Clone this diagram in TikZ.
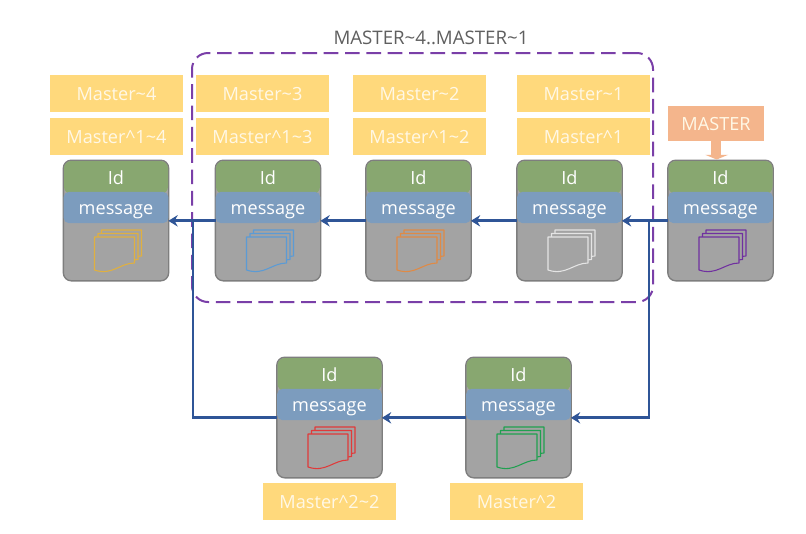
\documentclass[tikz,border=0pt]{standalone}
\usepackage{fontspec}
\setmainfont{Open Sans}
\usetikzlibrary{arrows.meta,calc}
\definecolor{cardgray}{HTML}{A3A3A3}
\definecolor{cardedge}{HTML}{7E7E7E}
\definecolor{idgreen}{HTML}{88A770}
\definecolor{msgblue}{HTML}{7C9CBE}
\definecolor{tagyellow}{HTML}{FFD97C}
\definecolor{tagorange}{HTML}{F4B58C}
\definecolor{linkblue}{HTML}{2F5597}
\definecolor{rangepurple}{HTML}{7A3FA8}
\definecolor{titlegray}{HTML}{5F5F5F}
\definecolor{tagtext}{HTML}{FFF8E6}
\definecolor{shyellow}{HTML}{E0B040}
\definecolor{shblue}{HTML}{5B9BD5}
\definecolor{shorange}{HTML}{E08A45}
\definecolor{shwhite}{HTML}{E4E4E4}
\definecolor{shpurple}{HTML}{7030A0}
\definecolor{shred}{HTML}{E03A3A}
\definecolor{shgreen}{HTML}{20A050}
\tikzset{
  x=0.75pt,y=-0.75pt,
  labelfont/.style={font=\fontsize{13.6}{15}\selectfont,text height=11pt,text depth=0.6pt},
  cardbox/.style={draw=cardedge,line width=1pt,fill=cardgray,rounded corners=6pt,minimum width=79pt,minimum height=90.5pt,inner sep=0pt,outer sep=0pt},
  msgband/.style={labelfont,fill=msgblue,text=white,rounded corners=4pt,minimum width=78.5pt,minimum height=23.5pt,inner sep=0pt,outer sep=0pt},
  tag/.style={labelfont,fill=tagyellow,text=tagtext,minimum width=100pt,minimum height=28pt,inner sep=0pt,outer sep=0pt},
  headtag/.style={labelfont,fill=tagorange,text=tagtext,minimum width=72pt,minimum height=26pt,inner sep=0pt,outer sep=0pt},
  link/.style={draw=linkblue,line width=2.2pt},
  linkarrow/.style={link,-{Stealth[length=7pt,width=8.5pt]}},
  rangebox/.style={draw=rangepurple,line width=1.5pt,rounded corners=12pt,dash pattern=on 11pt off 5pt},
  sheet/.style={fill=cardgray,line width=0.8pt,line join=round},
}
% name, centre x, top y, sheet colour
\newcommand\mkcard[4]{%
  \node[cardbox] (c#1) at (#2,#3+60.5) {};
  \fill[idgreen,rounded corners=5.5pt] (#2-52,#3+34) -- (#2-52,#3+1) -- (#2+52,#3+1) -- (#2+52,#3+34) -- cycle;
  \node[labelfont,text=white,inner sep=0pt] (i#1) at (#2,#3+18) {Id};
  \node[msgband] (m#1) at (#2,#3+47.5) {message};
  \foreach \d in {7,3.5,0}{
    \draw[sheet,draw=#4] (#2-21.5+\d,#3+77-\d) -- (#2+18.5+\d,#3+77-\d) -- (#2+18.5+\d,#3+103-\d)
      .. controls (#2+4+\d,#3+103-\d) and (#2-4+\d,#3+116-\d) .. (#2-21.5+\d,#3+110-\d) -- cycle;
  }%
}
\begin{document}
\begin{tikzpicture}
\useasboundingbox (0,0) rectangle (806,533);
\fill[white] (0,0) rectangle (806,533);

% tags
\node[tag] (a4) at (116.5,93.5) {Master\string~4};
\node[tag] (b4) at (116.5,136.5) {Master\string^1\string~4};
\node[tag] (a3) at (262.5,93.5) {Master\string~3};
\node[tag] (b3) at (262.5,136.5) {Master\string^1\string~3};
\node[tag] (a2) at (419.5,93.5) {Master\string~2};
\node[tag] (b2) at (419.5,136.5) {Master\string^1\string~2};
\node[tag] (a1) at (583.5,93.5) {Master\string~1};
\node[tag] (b1) at (583.5,136.5) {Master\string^1};
\node[tag] (d2) at (329.5,501.5) {Master\string^2\string~2};
\node[tag] (d1) at (516.5,501.5) {Master\string^2};
\node[headtag] (head) at (716,123.5) {MASTER};

% cards
\mkcard{e}{116}{160}{shyellow}
\mkcard{d}{268}{160}{shblue}
\mkcard{c}{418.5}{160}{shorange}
\mkcard{b}{569.5}{160}{shwhite}
\mkcard{a}{720.5}{160}{shpurple}
\mkcard{g}{329.5}{357}{shred}
\mkcard{f}{518.5}{357}{shgreen}

% head arrow
\fill[tagorange] ([xshift=-3.6pt]head.south) -- ([xshift=3.6pt]head.south)
  -- ([xshift=3.6pt,yshift=-10.5pt]head.south) -- ([xshift=9pt,yshift=-10.5pt]head.south)
  -- ([xshift=0.5pt,yshift=-14pt]head.south) -- ([xshift=-8pt,yshift=-10.5pt]head.south)
  -- ([xshift=-3.6pt,yshift=-10.5pt]head.south) -- cycle;

% range
\node[rangebox,minimum width=345.75pt,minimum height=186.75pt,inner sep=0pt] (range) at (422.5,177.5) {};
\node[text=titlegray,font=\fontsize{14}{16}\selectfont,inner sep=0pt] (rangelabel) at (431,38) {MASTER\string~4..MASTER\string~1};

% links
\coordinate (fin) at ([yshift=-10pt]mf.east);
\coordinate (gout) at ([yshift=-10pt]mg.west);
\coordinate (topright) at (649,221);
\coordinate (topleft) at (193,221);
\draw[linkarrow] ([yshift=-10pt]ma.west) -- ([yshift=-10pt]mb.east);
\draw[linkarrow] ([yshift=-10pt]mb.west) -- ([yshift=-10pt]mc.east);
\draw[linkarrow] ([yshift=-10pt]mc.west) -- ([yshift=-10pt]md.east);
\draw[linkarrow] ([yshift=-10pt]md.west) -- ([yshift=-10pt]me.east);
\draw[linkarrow] (topright) |- (fin);
\draw[linkarrow] ([yshift=-10pt]mf.west) -- ([yshift=-10pt]mg.east);
\draw[link] (gout) -| (topleft);
\end{tikzpicture}
\end{document}
